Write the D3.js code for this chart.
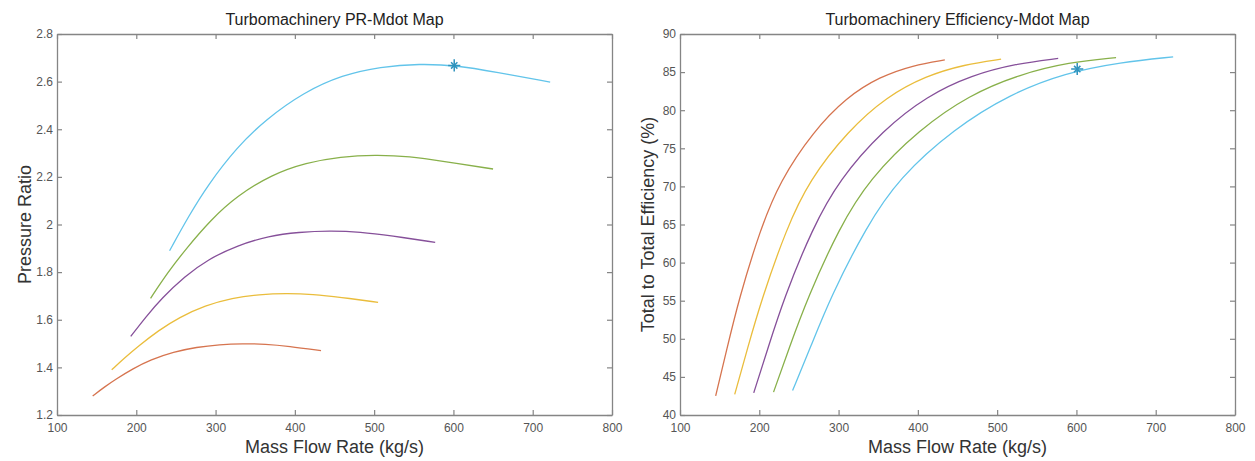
<!DOCTYPE html>
<html>
<head>
<meta charset="utf-8">
<script src="https://cdn.jsdelivr.net/npm/d3@7"></script>
<style>
  body { margin: 0; background: #fff; }
  text { font-family: "Liberation Sans", Arial, sans-serif; }
</style>
</head>
<body>
<div id="chart"></div>
<script>
// speed lines, lowest to highest (matlab colour order 2..6)
var lineColors = ["#d6744f", "#eabd3c", "#86509a", "#88b04a", "#62c4ea"];
var markerColor = "#2f93bd";

var xTicks = [100, 200, 300, 400, 500, 600, 700, 800];
var prTicks = [1.2, 1.4, 1.6, 1.8, 2, 2.2, 2.4, 2.6, 2.8];
var effTicks = [40, 45, 50, 55, 60, 65, 70, 75, 80, 85, 90];

// PR - mdot
var prMdot = [
  [145, 160, 174, 196, 218, 247, 276, 305, 334, 363, 392, 433],
  [169, 186, 203, 228, 254, 287, 321, 355, 389, 423, 457, 505],
  [193, 212, 232, 261, 290, 328, 367, 405, 444, 483, 521, 577],
  [218, 240, 262, 294, 327, 371, 414, 458, 501, 545, 588, 650],
  [242, 266, 290, 327, 363, 411, 460, 508, 557, 605, 653, 722]
];
var prValues = [
  [1.28, 1.318, 1.35, 1.395, 1.432, 1.465, 1.485, 1.496, 1.5, 1.498, 1.489, 1.47],
  [1.39, 1.442, 1.49, 1.555, 1.61, 1.66, 1.692, 1.706, 1.711, 1.707, 1.695, 1.673],
  [1.53, 1.612, 1.69, 1.782, 1.853, 1.913, 1.952, 1.968, 1.974, 1.969, 1.953, 1.925],
  [1.69, 1.8, 1.895, 2.02, 2.12, 2.21, 2.26, 2.285, 2.293, 2.287, 2.265, 2.233],
  [1.89, 2.035, 2.165, 2.325, 2.44, 2.555, 2.628, 2.663, 2.675, 2.668, 2.64, 2.598]
];

// efficiency - mdot
var effMdot = [
  [145, 159, 174, 201, 226, 268, 310, 352, 394, 434],
  [169, 185, 203, 234, 263, 312, 361, 410, 459, 505],
  [193, 211, 231, 267, 301, 356, 412, 468, 524, 577],
  [218, 238, 261, 301, 339, 402, 465, 528, 591, 650],
  [242, 265, 290, 335, 376, 446, 516, 586, 656, 722]
];
var effValues = [
  [42.5, 48.6, 55.1, 64.3, 70.7, 77.2, 81.7, 84.4, 85.9, 86.6],
  [42.7, 48.7, 55.2, 64.4, 70.8, 77.3, 81.8, 84.5, 86.0, 86.7],
  [42.9, 48.8, 55.3, 64.5, 70.9, 77.4, 81.9, 84.6, 86.1, 86.8],
  [43.0, 48.9, 55.4, 64.6, 71.0, 77.5, 82.0, 84.7, 86.3, 86.9],
  [43.2, 49.0, 55.5, 64.7, 71.1, 77.6, 82.1, 84.9, 86.3, 87.0]
];

// design point (*)
var designMdot = 601;
var designPR = 2.668;
var designEff = 85.4;

var axisColor = "#858585";
var tickTextColor = "#555";

var svg = d3.select("#chart")
  .append("svg")
  .attr("width", 1255)
  .attr("height", 461);

var plotTop = 34, plotBottom = 415;

function drawPanel(x0, x1, yDomain, yTicks, mdots, values, title, ylabel, ylabelX, mark) {
  var x = d3.scaleLinear().domain([100, 800]).range([x0, x1]);
  var y = d3.scaleLinear().domain(yDomain).range([plotBottom, plotTop]);

  var g = svg.append("g");

  // frame + inward ticks on all four sides
  var ax = [
    [d3.axisBottom(x).tickValues(xTicks).tickSizeInner(-5).tickPadding(8), "translate(0," + plotBottom + ")"],
    [d3.axisTop(x).tickValues(xTicks).tickSizeInner(-5).tickFormat(""), "translate(0," + plotTop + ")"],
    [d3.axisLeft(y).tickValues(yTicks).tickSizeInner(-5).tickPadding(4).tickFormat(function(d){ return String(d); }), "translate(" + x0 + ",0)"],
    [d3.axisRight(y).tickValues(yTicks).tickSizeInner(-5).tickFormat(""), "translate(" + x1 + ",0)"]
  ];
  ax.forEach(function(a) {
    var ag = g.append("g")
      .attr("transform", a[1])
      .call(a[0].tickSizeOuter(0));
    ag.select(".domain").attr("stroke", axisColor).attr("stroke-width", 1.3);
    ag.selectAll(".tick line").attr("stroke", axisColor).attr("stroke-width", 1.2);
    ag.selectAll(".tick text")
      .attr("fill", tickTextColor)
      .style("font-size", "12px")
      .style("font-family", "'Liberation Sans', Arial, sans-serif");
  });

  var line = d3.line()
    .x(function(d) { return x(d[0]); })
    .y(function(d) { return y(d[1]); })
    .curve(d3.curveBasis);

  mdots.forEach(function(m, i) {
    var pts = m.map(function(v, j) { return [v, values[i][j]]; });
    g.append("path")
      .datum(pts)
      .attr("d", line)
      .attr("fill", "none")
      .attr("stroke", lineColors[i])
      .attr("stroke-width", 1.3);
  });

  // asterisk marker = plus + times
  [[d3.symbolPlus, 50], [d3.symbolTimes, 28]].forEach(function(s) {
    g.append("path")
      .attr("d", d3.symbol().type(s[0]).size(s[1]))
      .attr("transform", "translate(" + x(mark[0]) + "," + y(mark[1]) + ")")
      .attr("fill", "none")
      .attr("stroke", markerColor)
      .attr("stroke-width", 1.5);
  });

  g.append("text")
    .attr("x", (x0 + x1) / 2)
    .attr("y", 25)
    .attr("text-anchor", "middle")
    .attr("fill", "#222")
    .style("font-size", "16px")
    .text(title);

  g.append("text")
    .attr("x", (x0 + x1) / 2)
    .attr("y", 453)
    .attr("text-anchor", "middle")
    .attr("fill", "#333")
    .style("font-size", "18px")
    .text("Mass Flow Rate (kg/s)");

  g.append("text")
    .attr("transform", "translate(" + ylabelX + "," + ((plotTop + plotBottom) / 2) + ") rotate(-90)")
    .attr("text-anchor", "middle")
    .attr("fill", "#333")
    .style("font-size", "18px")
    .text(ylabel);
}

drawPanel(57, 612, [1.2, 2.8], prTicks, prMdot, prValues,
  "Turbomachinery PR-Mdot Map", "Pressure Ratio", 31, [designMdot, designPR]);

drawPanel(680, 1235, [40, 90], effTicks, effMdot, effValues,
  "Turbomachinery Efficiency-Mdot Map", "Total to Total Efficiency (%)", 654, [designMdot, designEff]);
</script>
</body>
</html>
